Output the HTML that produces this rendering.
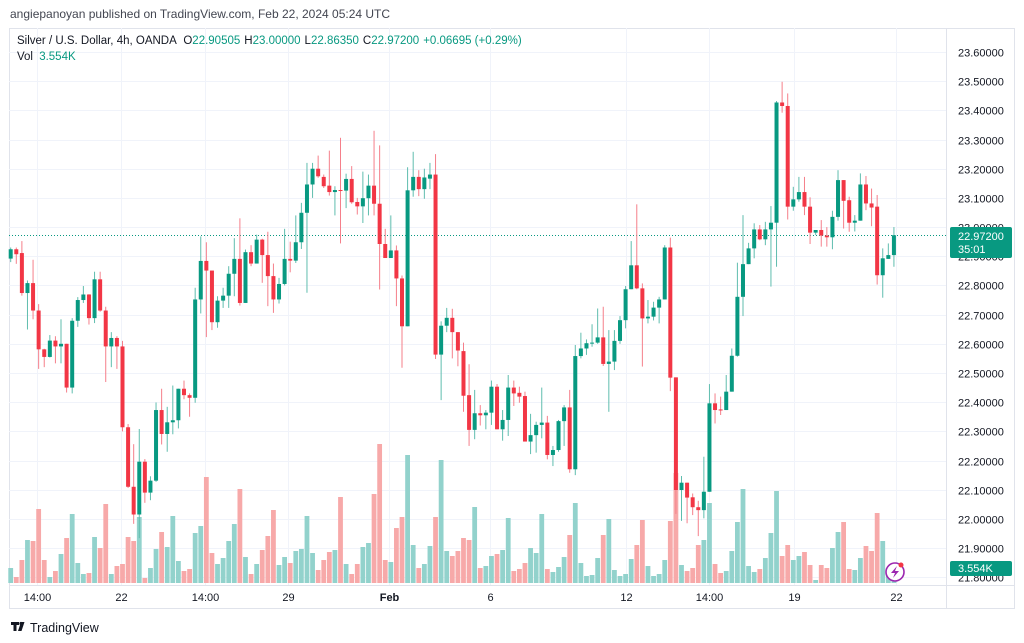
<!DOCTYPE html>
<html><head><meta charset="utf-8"><style>
html,body{margin:0;padding:0;background:#fff;width:1024px;height:643px;overflow:hidden}
svg{display:block;font-family:"Liberation Sans",sans-serif}
</style></head><body>
<svg id="c" width="1024" height="643" viewBox="0 0 1024 643">
<text x="10" y="18" font-size="12" fill="#434651">angiepanoyan published on TradingView.com, Feb 22, 2024 05:24 UTC</text>
<rect x="9.5" y="28.5" width="1005" height="580" fill="none" stroke="#e0e3eb"/>
<g id="grid"></g>
<line x1="9" y1="235.5" x2="946" y2="235.5" stroke="#089981" stroke-dasharray="1,2" stroke-width="1"/>
<g id="vol"></g>
<g id="candles"></g>
<line x1="946.5" y1="28" x2="946.5" y2="608" stroke="#e0e3eb"/>
<line x1="9" y1="585.5" x2="1014" y2="585.5" stroke="#e0e3eb"/>
<g id="yt"></g>
<g id="xt"></g>
<text x="17" y="44" font-size="11.5" fill="#131722">Silver / U.S. Dollar, 4h, OANDA  <tspan dx="4">O</tspan><tspan fill="#089981">22.90505</tspan><tspan dx="4">H</tspan><tspan fill="#089981">23.00000</tspan><tspan dx="4">L</tspan><tspan fill="#089981">22.86350</tspan><tspan dx="4">C</tspan><tspan fill="#089981">22.97200</tspan><tspan dx="4" fill="#089981">+0.06695 (+0.29%)</tspan></text>
<text x="17" y="60" font-size="11.5" fill="#131722">Vol <tspan dx="3" fill="#089981">3.554K</tspan></text>
<g>
<rect x="950" y="227" width="62" height="31" rx="2" fill="#089981"/>
<text x="958" y="240" font-size="11" fill="#fff">22.97200</text>
<text x="958" y="253" font-size="11" fill="#fff">35:01</text>
</g>
<g>
<rect x="950" y="561" width="62" height="15" rx="2" fill="#089981"/>
<text x="958" y="572" font-size="11" fill="#fff">3.554K</text>
</g>
<g>
<circle cx="895" cy="572" r="9" fill="#fff" stroke="#9c27b0" stroke-width="1.6"/>
<path d="M897 566 L891 573 L895 573 L893 578 L899 571 L895 571 Z" fill="#9c27b0"/>
<circle cx="901" cy="565" r="2.5" fill="#f23645"/>
</g>
<g>
<path d="M11 622 h8 v3 h-2.5 v6 h-3 v-6 h-2.5 Z M21 622 h3.5 l-3 9 h-3.5 Z" fill="#131722"/>
<circle cx="21" cy="623.5" r="1.6" fill="#131722"/>
<text x="30" y="632" font-size="12.5" fill="#131722">TradingView</text>
</g>
</svg>
<script>
const opens=[22.892,22.924,22.911,22.774,22.808,22.714,22.581,22.555,22.611,22.591,22.60,22.45,22.679,22.75,22.769,22.688,22.821,22.714,22.591,22.62,22.591,22.314,22.11,22.015,22.196,22.09,22.131,22.373,22.291,22.331,22.338,22.446,22.424,22.415,22.752,22.884,22.851,22.674,22.748,22.765,22.84,22.891,22.74,22.914,22.875,22.957,22.904,22.832,22.752,22.805,22.891,22.885,22.948,23.049,23.146,23.20,23.172,23.142,23.12,23.127,23.125,23.165,23.086,23.071,23.099,23.142,23.08,22.942,22.894,22.92,22.824,22.66,23.126,23.172,23.13,23.166,23.18,22.563,22.662,22.689,22.64,22.575,22.424,22.305,22.362,22.355,22.364,22.453,22.307,22.339,22.45,22.432,22.421,22.265,22.287,22.322,22.33,22.219,22.236,22.335,22.382,22.17,22.558,22.584,22.602,22.604,22.622,22.531,22.539,22.61,22.681,22.787,22.869,22.79,22.687,22.693,22.724,22.752,22.93,22.485,22.099,22.124,22.074,22.04,22.03,22.093,22.396,22.375,22.373,22.436,22.559,22.761,22.873,22.927,22.992,22.958,22.992,23.015,23.427,23.415,23.07,23.095,23.12,23.07,22.981,22.99,22.971,22.965,23.035,23.161,23.092,23.015,23.022,23.146,23.081,23.07,22.835,22.891,22.904];
const highs=[22.93,22.93,22.952,22.817,22.888,22.736,22.583,22.63,22.626,22.684,22.60,22.688,22.76,22.798,22.77,22.847,22.847,22.727,22.64,22.626,22.61,22.325,22.256,22.308,22.205,22.146,22.399,22.446,22.384,22.457,22.446,22.474,22.43,22.792,22.968,22.948,22.851,22.763,22.792,22.866,22.962,23.03,22.923,22.938,22.974,22.96,22.984,22.875,22.826,22.994,22.95,23.04,23.083,23.22,23.22,23.245,23.18,23.262,23.14,23.306,23.183,23.209,23.10,23.19,23.18,23.33,23.28,22.994,23.04,22.937,22.834,23.205,23.258,23.195,23.20,23.22,23.25,22.677,22.723,22.72,22.64,22.604,22.53,22.442,22.39,22.373,22.474,22.462,22.373,22.493,22.474,22.453,22.436,22.36,22.333,22.45,22.353,22.25,22.339,22.39,22.442,22.596,22.638,22.615,22.667,22.721,22.727,22.647,22.647,22.695,22.798,22.952,23.078,22.807,22.75,22.744,22.761,22.938,22.964,22.485,22.147,22.124,22.087,22.062,22.213,22.462,22.43,22.419,22.493,22.584,22.878,23.041,22.946,23.013,23.007,23.018,23.072,23.432,23.498,23.458,23.138,23.172,23.172,23.102,22.99,23.024,23.0,23.056,23.195,23.161,23.104,23.041,23.184,23.175,23.132,23.11,22.927,22.944,23.0];
const lows=[22.88,22.874,22.765,22.649,22.684,22.514,22.52,22.553,22.533,22.533,22.433,22.43,22.658,22.74,22.666,22.671,22.71,22.469,22.52,22.514,22.30,22.106,21.983,21.934,22.055,22.064,22.127,22.255,22.23,22.29,22.31,22.41,22.35,22.398,22.704,22.623,22.647,22.655,22.723,22.723,22.763,22.731,22.74,22.866,22.875,22.809,22.729,22.706,22.738,22.80,22.845,22.877,22.925,22.775,23.10,23.169,23.134,23.108,23.04,22.944,23.065,23.08,23.043,23.014,23.04,23.04,22.786,22.894,22.894,22.729,22.518,22.66,23.104,23.106,23.097,23.13,22.548,22.407,22.64,22.55,22.523,22.367,22.25,22.273,22.32,22.307,22.322,22.307,22.268,22.284,22.387,22.398,22.265,22.222,22.227,22.276,22.204,22.181,22.23,22.25,22.158,22.15,22.55,22.562,22.59,22.60,22.524,22.367,22.51,22.60,22.653,22.787,22.787,22.522,22.67,22.68,22.67,22.752,22.438,22.017,21.993,21.985,22.013,21.941,22.002,22.093,22.327,22.356,22.373,22.436,22.556,22.695,22.873,22.893,22.955,22.938,22.796,22.864,23.392,23.026,23.056,23.087,23.041,22.942,22.973,22.933,22.933,22.924,23.022,22.995,22.984,22.985,23.022,23.058,23.003,22.803,22.758,22.891,22.864];
const closes=[22.924,22.907,22.774,22.808,22.714,22.581,22.555,22.611,22.591,22.60,22.45,22.679,22.75,22.769,22.688,22.821,22.714,22.591,22.62,22.591,22.314,22.11,22.015,22.196,22.09,22.131,22.373,22.291,22.331,22.338,22.446,22.424,22.415,22.752,22.884,22.851,22.674,22.748,22.765,22.84,22.891,22.74,22.914,22.875,22.957,22.904,22.832,22.752,22.805,22.891,22.885,22.948,23.049,23.146,23.20,23.174,23.14,23.12,23.127,23.125,23.165,23.085,23.071,23.099,23.142,23.08,22.942,22.894,22.92,22.824,22.66,23.126,23.172,23.13,23.17,23.18,22.563,22.662,22.689,22.64,22.577,22.422,22.305,22.362,22.355,22.364,22.453,22.307,22.339,22.45,22.43,22.419,22.265,22.287,22.322,22.33,22.219,22.236,22.335,22.382,22.17,22.558,22.584,22.602,22.604,22.622,22.531,22.539,22.61,22.681,22.787,22.869,22.79,22.687,22.693,22.724,22.752,22.93,22.484,22.099,22.124,22.073,22.04,22.03,22.093,22.396,22.373,22.373,22.436,22.559,22.761,22.873,22.927,22.992,22.958,22.992,23.015,23.427,23.415,23.07,23.095,23.12,23.07,22.981,22.99,22.971,22.965,23.035,23.161,23.09,23.015,23.022,23.146,23.081,23.067,22.835,22.893,22.904,22.972];
const volumes=[3.75,1.5,5.75,10.75,10.5,18.5,5.75,1.5,3,7.25,11.25,17.25,5,2.25,2.5,11.5,8.75,19.75,2.25,4.25,4.75,11.5,10.5,16.5,1.25,3.75,8.5,12.75,9,16.75,5.5,3,3.5,12.5,14.25,26.5,7.5,4.75,6.25,10.5,14.75,23.5,6.5,2.25,4.75,8.25,11.75,18.25,4.5,6.5,5,8,8.5,16.75,7.5,3.25,5.75,7.75,8.25,21.5,4.75,2.25,4.75,9,10,22.25,34.75,5.75,5.25,13.75,16.5,32,9.5,3.75,4.75,9.25,16.5,30.75,8,6.75,8,11.25,10.75,19,3.75,4.25,6.75,7.25,8.25,16.25,3,3.5,5,8.75,7.5,17.25,3.5,2.75,4,6.5,12,20,5,1.75,2,6.25,12,16,3.25,1.75,2.25,6,9.5,15.75,4.25,1.75,2.25,5.75,15.5,27.5,4.5,3,3.75,9.5,10.75,20,4.75,2.5,3,8,15.25,23.5,4.25,2.75,3.5,6.25,12.5,23,6.75,9.5,5.75,6.75,7.75,4.5,0.75,4.5,3.75,8.75,12.75,15.25,3.5,3.25,6.25,9.25,8,17.5,10.5,3.25,3.55];
const priceTicks=[23.6,23.5,23.4,23.3,23.2,23.1,23.0,22.9,22.8,22.7,22.6,22.5,22.4,22.3,22.2,22.1,22.0,21.9,21.8];
const timeLabels=["14:00","22","14:00","29","Feb","6","12","14:00","19","22"];
const timeIdx=[4.7,19.7,34.7,49.6,67.7,85.8,110,124.9,140.1,158.3];

const NS="http://www.w3.org/2000/svg";
const yScale=p=>52+(23.6-p)*291.8;
const xScale=i=>10.7+i*5.59;
const vScale=v=>v*4;
function mk(tag,attrs,parent){const e=document.createElementNS(NS,tag);for(const k in attrs)e.setAttribute(k,attrs[k]);parent.appendChild(e);return e;}
const grid=document.getElementById('grid'),yt=document.getElementById('yt'),xt=document.getElementById('xt');
priceTicks.forEach(p=>{
  const y=Math.round(yScale(p))+0.5;
  const g=mk('line',{x1:9,x2:946,y1:y,y2:y,stroke:'#f0f3fa'},grid);
  
  
  const t=mk('text',{x:958,y:y+4,'font-size':11,fill:'#131722'},yt);
  t.textContent=p.toFixed(5);
  
  
});
timeLabels.forEach((s,k)=>{
  const x=Math.round(xScale(timeIdx[k]))+0.5;
  const g=mk('line',{x1:x,x2:x,y1:28,y2:585,stroke:'#f0f3fa'},grid);
  
  
  const t=mk('text',{x:x,y:601,'font-size':11,fill:'#131722','text-anchor':'middle','font-weight':s==='Feb'?'bold':'normal'},xt);
  t.textContent=s;
  
  
});
const vg=document.getElementById('vol'),cg=document.getElementById('candles');
closes.forEach((c,i)=>{
  const o=opens[i],up=c>=o,x=xScale(i);
  const h=vScale(volumes[i]);
  const vb=mk('rect',{x:x-2.4,y:583-h,width:4.8,height:h,fill:up?'#92d2cc':'#f7a9a9'},vg);
  
  
  const col=up?'#089981':'#f23645';
  const wk=mk('line',{x1:x,x2:x,y1:yScale(highs[i]),y2:yScale(lows[i]),stroke:up?'#5fbdae':'#f57f8a','stroke-width':1},cg);
  
  
  const yt1=yScale(Math.max(o,c)),yb=yScale(Math.min(o,c));
  const b=mk('rect',{x:x-2,y:yt1,width:4,height:Math.max(1,yb-yt1),fill:col},cg);
  
  
});
</script>
</body></html>
